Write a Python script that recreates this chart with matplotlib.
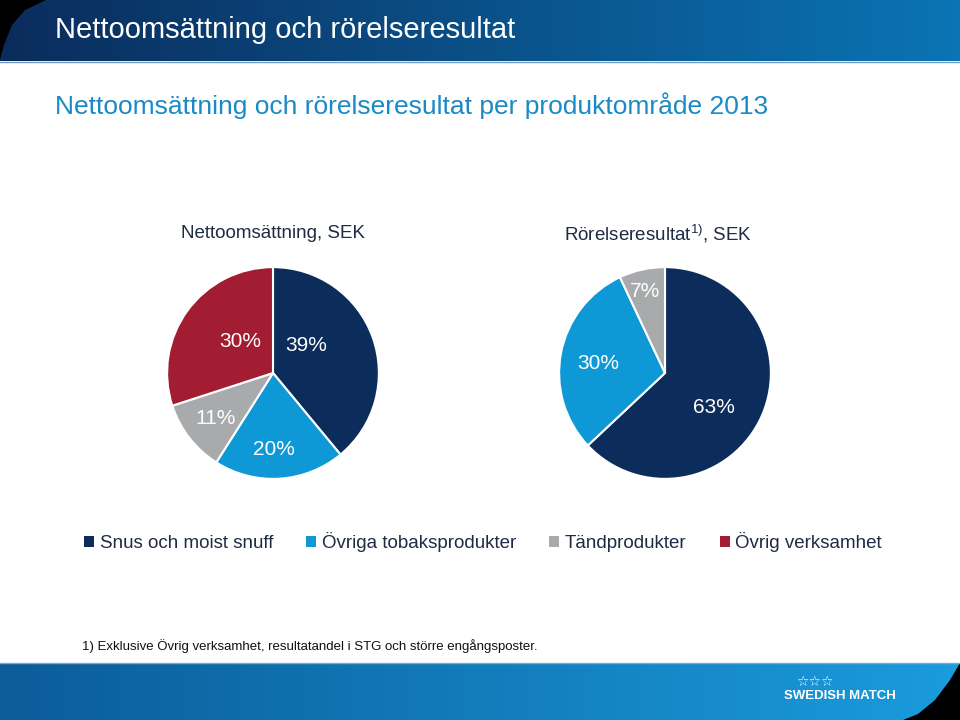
import matplotlib.pyplot as plt
import numpy as np
from matplotlib.colors import to_rgb

plt.rcParams['font.family'] = ['Liberation Sans', 'DejaVu Sans']
plt.rcParams['mathtext.fontset'] = 'custom'
plt.rcParams['mathtext.rm'] = 'Liberation Sans'

# data
categories = ['Snus och moist snuff', 'Övriga tobaksprodukter', 'Tändprodukter', 'Övrig verksamhet']
colors = ['#0C2D5B', '#0E98D6', '#A9AAAC', '#A21C32']
sales_pct = [39, 20, 11, 30]
profit_pct = [63, 30, 7]

title = 'Nettoomsättning och rörelseresultat'
subtitle = 'Nettoomsättning och rörelseresultat per produktområde 2013'
footnote = '1) Exklusive Övrig verksamhet, resultatandel i STG och större engångsposter.'

# label placement inside pies (pie units), layout only
sales_label_xy = [(0.31, 0.26), (0.01, -0.72), (-0.54, -0.43), (-0.31, 0.30)]
profit_label_xy = [(0.46, -0.33), (-0.63, 0.09), (-0.19, 0.77)]

W, H = 960, 720
fig = plt.figure(figsize=(9.6, 7.2), dpi=100)
fig.patch.set_facecolor('white')

# background in pixel coordinates
bg = fig.add_axes([0, 0, 1, 1])
bg.set_xlim(0, W)
bg.set_ylim(H, 0)
bg.axis('off')


def gradient(c1, c2, n=256):
    a, b = np.array(to_rgb(c1)), np.array(to_rgb(c2))
    t = np.linspace(0, 1, n)[:, None]
    return (a + (b - a) * t)[None, :, :]


bg.imshow(gradient('#0B2C5C', '#0A74B4'), extent=[0, W, 61, 0], aspect='auto')
bg.axhline(61.5, color='#6F9BBF', lw=1)
bg.fill([0, 46, 25, 12, 4, 0], [0, 0, 10, 25, 45, 60], color='black', lw=0)

bg.imshow(gradient('#0B5C99', '#1A9CDD'), extent=[0, W, H, 663], aspect='auto')
bg.axhline(663, color='#7FA7C7', lw=1)
bg.fill([960, 960, 950, 935, 918, 903], [720, 663, 680, 700, 714, 720], color='black', lw=0)
bg.set_xlim(0, W)
bg.set_ylim(H, 0)

bg.text(55, 30, title, color='white', fontsize=21, va='center', ha='left')
bg.text(55, 106, subtitle, color='#1A8AC6', fontsize=19, va='center', ha='left')
bg.text(273, 234, 'Nettoomsättning, SEK', color='#1F2A44', fontsize=13.5, ha='center', va='center')
bg.text(658, 234, r'Rörelseresultat$^{\mathrm{1)}}$, SEK', color='#1F2A44', fontsize=13.5,
        ha='center', va='center')
bg.text(82, 646, footnote, color='#111111', fontsize=9.5, ha='left', va='center')

# logo
bg.text(815, 682, '☆☆☆', color='white', fontsize=10, ha='center', va='center',
        family=['DejaVu Sans'])
bg.text(840, 696, 'SWEDISH MATCH', color='white', fontsize=9.5, fontweight='bold',
        ha='center', va='center')


def draw_pie(left_px, values, cols, label_xy):
    ax = fig.add_axes([left_px / W, 1 - 481 / H, 216 / W, 216 / H])
    wedges, _ = ax.pie(values, colors=cols, startangle=90, counterclock=False,
                       wedgeprops=dict(edgecolor='white', linewidth=1.5))
    for v, (x, y) in zip(values, label_xy):
        ax.text(x, y, f'{v}%', color='white', fontsize=15, ha='center', va='center')
    ax.set_xlim(-1.02, 1.02)
    ax.set_ylim(-1.02, 1.02)
    ax.set_aspect('auto')
    return wedges


wedges = draw_pie(165, sales_pct, colors, sales_label_xy)
draw_pie(557, profit_pct, colors[:3], profit_label_xy)

leg = fig.legend(wedges, categories, loc='center', bbox_to_anchor=(483 / W, 1 - 542 / H),
                 ncol=4, frameon=False, fontsize=13.5, handlelength=0.55, handleheight=0.55,
                 handletextpad=0.3, columnspacing=1.75)
for t in leg.get_texts():
    t.set_color('#1F2A44')
for h in leg.legend_handles:
    h.set_edgecolor('none')

fig.savefig('out.png', dpi=100, facecolor='white')
